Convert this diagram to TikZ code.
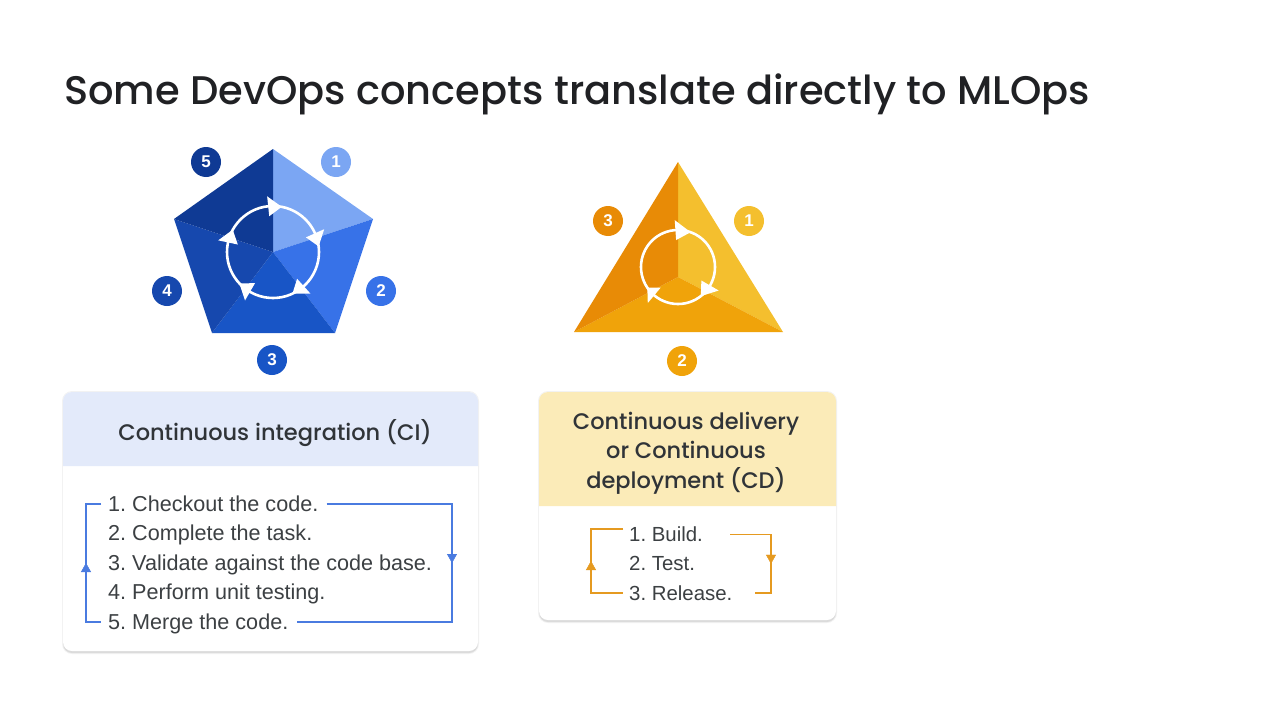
\documentclass[tikz,border=0pt]{standalone}
\usepackage{fontspec}
\setmainfont{Poppins}[UprightFont=* Medium]
\newfontfamily\itemfont{Liberation Sans}
\usetikzlibrary{arrows.meta,decorations.markings}

\definecolor{titleink}{HTML}{202124}
\definecolor{headink}{HTML}{303438}
\definecolor{itemink}{HTML}{3C4043}
\definecolor{blueA}{HTML}{7BA6F3}
\definecolor{blueB}{HTML}{3772E8}
\definecolor{blueC}{HTML}{1855C6}
\definecolor{blueD}{HTML}{1648AE}
\definecolor{blueE}{HTML}{0F3A94}
\definecolor{goldA}{HTML}{F4BF2E}
\definecolor{goldB}{HTML}{F0A30A}
\definecolor{goldC}{HTML}{E88B06}
\definecolor{cihead}{HTML}{E3EAFA}
\definecolor{cdhead}{HTML}{FBEBB8}
\definecolor{cilink}{HTML}{4A7BE0}
\definecolor{cdlink}{HTML}{E59A20}

\tikzset{
  badge/.style={circle,fill=#1,text=white,minimum size=30pt,inner sep=0pt,font=\itemfont\bfseries\fontsize{17}{17}\selectfont},
  headtext/.style={align=center,text=headink,inner sep=0pt,font=\fontsize{22.5}{29.7}\selectfont},
  itemtext/.style={anchor=west,text=itemink,inner sep=0pt,text height=14pt,text depth=0pt,font=\frenchspacing\itemfont\fontsize{#1}{24}\selectfont},
  midtip/.style={postaction={decorate},decoration={markings,mark=at position 0.5 with {\arrow{Triangle[width=10pt,length=9pt]}}}},
  link/.style={draw=#1,line width=1.2pt,line join=miter},
}

\begin{document}
\begin{tikzpicture}[x=1pt,y=-1pt] % one unit is one pixel, y runs down
\useasboundingbox (0,0) rectangle (1280,720);

\node[anchor=base west,inner sep=0pt,text=titleink,font=\fontsize{39.95}{50}\selectfont] (title) at (64,104) {Some DevOps concepts translate directly to MLOps};

% pentagon
\coordinate (pc) at (273,252);
\coordinate (p1) at (273,149);
\coordinate (p2) at (373,219);
\coordinate (p3) at (335,333);
\coordinate (p4) at (212,333);
\coordinate (p5) at (174,219);
\fill[blueA] (pc) -- (p1) -- (p2) -- cycle;
\fill[blueB] (pc) -- (p2) -- (p3) -- cycle;
\fill[blueC] (pc) -- (p3) -- (p4) -- cycle;
\fill[blueD] (pc) -- (p4) -- (p5) -- cycle;
\fill[blueE] (pc) -- (p5) -- (p1) -- cycle;
\draw[white,line width=2.6pt] (273,252) circle (46);
\foreach \a in {-96,-24,48,120,192}
\fill[white,shift={(273,252)}] (\a+17:46) -- (\a:36) -- (\a:56) -- cycle;

\node[badge=blueA] (penta1) at (336,162) {1};
\node[badge=blueB] (penta2) at (381,291) {2};
\node[badge=blueC] (penta3) at (272,360) {3};
\node[badge=blueD] (penta4) at (167,291) {4};
\node[badge=blueE] (penta5) at (206,162) {5};

% triangle
\coordinate (tc) at (678,277);
\coordinate (t1) at (678,162);
\coordinate (t2) at (783,332);
\coordinate (t3) at (574,332);
\fill[goldA] (tc) -- (t1) -- (t2) -- cycle;
\fill[goldB] (tc) -- (t2) -- (t3) -- cycle;
\fill[goldC] (tc) -- (t3) -- (t1) -- cycle;
\draw[white,line width=2.6pt] (678,267) circle (37);
\foreach \a/\b in {-94/24,30/22,130/16}
\fill[white,shift={(678,267)}] (\a+\b:37) -- (\a:27) -- (\a:47) -- cycle;

\node[badge=goldA] (tri1) at (749,221) {1};
\node[badge=goldB] (tri2) at (682,361) {2};
\node[badge=goldC] (tri3) at (608,221) {3};

% CI card
\fill[black!5,rounded corners=10pt] (62,391) rectangle (479,654);
\fill[black!14,rounded corners=9pt] (63,393) rectangle (478,653);
\fill[white,rounded corners=9pt] (63,392) rectangle (478,651);
\fill[cihead] (63,466) [rounded corners=9pt] -- (63,392) -- (478,392) [sharp corners] -- (478,466) -- cycle;
\node[headtext] (cihd) at (275,433) {Continuous integration (CI)};

\foreach \i/\y/\t in {1/504/1. Checkout the code.,2/533.5/2. Complete the task.,3/563/3. Validate against the code base.,4/592/4. Perform unit testing.,5/622/5. Merge the code.}
\node[itemtext=21.6] (ci\i) at (108,\y) {\t};

\coordinate (cil1) at (86,504);
\coordinate (cil2) at (86,622);
\coordinate (cir1) at (452,504);
\coordinate (cir2) at (452,622);
\draw[link=cilink] ([xshift=-7pt]ci1.west) -- (cil1) -- (cil2) -- ([xshift=-7pt]ci5.west);
\draw[link=cilink] ([xshift=8pt]ci1.east) -- (cir1) -- (cir2) -- ([xshift=8pt]ci5.east);
\path[color=cilink,midtip] (cil2) -- (cil1);
\path[color=cilink,midtip] (cir1) -- (cir2);

% CD card
\fill[black!5,rounded corners=10pt] (538,391) rectangle (837,623);
\fill[black!14,rounded corners=9pt] (539,393) rectangle (836,622);
\fill[white,rounded corners=9pt] (539,392) rectangle (836,620);
\fill[cdhead] (539,506) [rounded corners=9pt] -- (539,392) -- (836,392) [sharp corners] -- (836,506) -- cycle;
\node[headtext] (cdhd) at (686,453) {Continuous delivery\\or Continuous\\deployment (CD)};

\foreach \i/\y/\t in {1/534.5/1. Build.,2/563.5/2. Test.,3/593/3. Release.}
\node[itemtext=20.4] (cd\i) at (629,\y) {\t};

\coordinate (cdl1) at (591,529);
\coordinate (cdl2) at (591,593);
\coordinate (cdr1) at (771,534.5);
\coordinate (cdr2) at (771,593);
\draw[link=cdlink] ([xshift=-6pt,yshift=5.5pt]cd1.west) -- (cdl1) -- (cdl2) -- ([xshift=-6pt]cd3.west);
\draw[link=cdlink] ([xshift=27pt]cd1.east) -- (cdr1) -- (cdr2) -- ([xshift=22pt]cd3.east);
\path[color=cdlink,midtip] (cdl2) -- (cdl1);
\path[color=cdlink,midtip] (cdr1) -- (cdr2);

\end{tikzpicture}
\end{document}
